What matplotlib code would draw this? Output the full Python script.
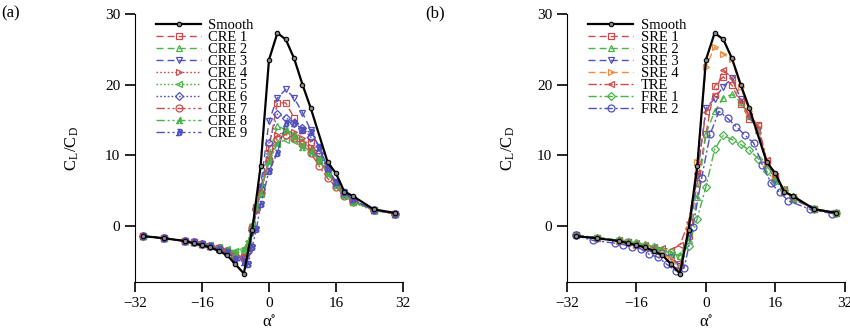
"""Lift-to-drag ratio vs angle of attack: (a) CRE cases, (b) SRE/TRE/FRE cases."""
import matplotlib
matplotlib.use("Agg")
import matplotlib.pyplot as plt

plt.rcParams["font.family"] = ["Liberation Serif", "DejaVu Serif"]
plt.rcParams["mathtext.fontset"] = "stix"

RED, GREEN, BLUE, ORANGE = "#cc4c4c", "#48b448", "#5050c0", "#f08a3c"

# ---- data ----
SMOOTH_A = [-30, -25, -20, -18, -16, -14, -12, -10, -8, -6, -4, -2, 0, 2, 4, 6, 8, 10,
            14, 16, 18, 20, 25, 30]
SMOOTH_Y = [-1.5, -1.8, -2.2, -2.5, -2.8, -3.1, -3.6, -4.2, -5.5, -6.8, -0.6, 8.4, 23.5,
            27.3, 26.4, 23.7, 20.0, 16.6, 9.0, 7.4, 4.8, 4.2, 2.3, 1.8]

CRE_A = [-30, -25, -20, -18, -16, -14, -12, -10, -8, -6, -5, -4, -3, -2, 0, 2, 4, 6, 8,
         10, 12, 14, 16, 18, 20, 25, 30]
CRE1 = [-1.5, -1.8, -2.2, -2.4, -2.6, -2.9, -3.2, -3.6, -4.2, -4.6, -3.5, -0.5, 2.5, 5.0,
        11.0, 17.4, 17.4, 15.3, 13.5, 11.8, 9.8, 7.8, 6.0, 4.6, 3.6, 2.2, 1.7]
CRE2 = [-1.5, -1.8, -2.2, -2.4, -2.6, -2.9, -3.1, -3.4, -3.8, -3.4, -2.5, 0.0, 2.5, 4.5,
        10.0, 14.1, 13.6, 13.0, 12.0, 10.8, 9.2, 7.5, 5.8, 4.5, 3.5, 2.2, 1.7]
CRE3 = [-1.5, -1.8, -2.2, -2.4, -2.6, -2.9, -3.3, -3.7, -4.6, -5.0, -4.0, -1.0, 2.0, 5.5,
        14.8, 18.1, 19.3, 18.1, 16.0, 13.5, 11.0, 8.0, 6.0, 4.6, 3.6, 2.2, 1.7]
CRE4 = [-1.5, -1.8, -2.2, -2.4, -2.6, -2.9, -3.2, -3.6, -4.2, -4.4, -3.3, -0.3, 2.6, 4.8,
        9.5, 12.8, 13.4, 13.2, 12.4, 11.2, 9.6, 7.6, 5.8, 4.4, 3.4, 2.2, 1.7]
CRE5 = [-1.5, -1.8, -2.2, -2.4, -2.6, -2.8, -3.0, -3.3, -3.6, -3.2, -2.2, 0.2, 2.8, 4.6,
        9.0, 11.6, 12.2, 12.0, 11.4, 10.4, 9.2, 7.4, 5.6, 4.2, 3.3, 2.1, 1.7]
CRE6 = [-1.5, -1.8, -2.2, -2.4, -2.6, -2.9, -3.2, -3.6, -4.4, -4.6, -3.6, -0.6, 2.4, 5.2,
        11.7, 15.8, 15.3, 14.6, 13.9, 12.5, 10.3, 8.0, 6.0, 4.6, 3.6, 2.2, 1.7]
CRE7 = [-1.5, -1.8, -2.2, -2.4, -2.6, -2.9, -3.2, -3.6, -4.3, -4.4, -3.4, -0.4, 2.4, 4.6,
        9.3, 12.3, 12.9, 12.4, 11.5, 10.3, 8.4, 6.7, 5.5, 4.2, 3.4, 2.2, 1.7]
CRE8 = [-1.5, -1.8, -2.2, -2.4, -2.6, -2.8, -3.1, -3.4, -3.9, -3.5, -2.4, 0.0, 2.6, 4.6,
        9.1, 11.7, 13.6, 12.7, 11.2, 10.5, 9.4, 7.4, 5.7, 4.4, 3.4, 2.2, 1.7]
CRE9 = [-1.5, -1.8, -2.2, -2.4, -2.6, -2.9, -3.3, -3.8, -4.8, -5.2, -5.5, -3.0, -0.5, 3.0,
        7.7, 10.3, 14.6, 14.6, 13.6, 13.2, 11.2, 8.2, 6.2, 4.8, 3.7, 2.2, 1.7]

R_A = [-30, -25, -20, -18, -16, -14, -12, -10, -8, -6, -4, -2, 0, 2, 4, 6, 8, 10, 12, 14,
       16, 18, 20, 25, 30]
SRE1 = [-1.4, -1.8, -2.2, -2.4, -2.7, -3.0, -3.4, -3.9, -4.6, -5.5, -1.5, 6.0, 13.0, 19.8,
        21.1, 19.9, 17.3, 15.1, 14.2, 9.1, 6.8, 5.0, 3.8, 2.4, 1.8]
SRE2 = [-1.4, -1.7, -2.1, -2.3, -2.5, -2.8, -3.1, -3.5, -4.0, -4.3, -2.0, 4.0, 13.0, 16.2,
        18.1, 18.6, 17.5, 15.5, 13.5, 9.0, 6.6, 5.0, 3.8, 2.3, 1.8]
SRE3 = [-1.4, -1.8, -2.2, -2.4, -2.7, -3.0, -3.4, -3.9, -4.5, -5.8, -1.0, 7.0, 16.6, 18.0,
        19.7, 20.9, 18.0, 15.5, 13.6, 8.8, 6.5, 4.8, 3.8, 2.3, 1.8]
SRE4 = [-1.4, -1.8, -2.2, -2.4, -2.7, -3.0, -3.5, -4.0, -4.8, -6.0, -0.5, 9.0, 22.5, 25.3,
        24.3, 23.6, 19.7, 16.2, 14.0, 8.8, 6.8, 5.0, 3.9, 2.3, 1.8]
TRE = [-1.4, -1.7, -2.1, -2.3, -2.5, -2.7, -3.0, -3.2, -3.4, -2.8, 0.5, 7.5, 16.1, 18.5,
       22.1, 20.9, 17.6, 15.6, 14.2, 9.3, 7.0, 5.2, 4.0, 2.4, 1.8]
FRE1 = [-1.4, -1.7, -2.1, -2.3, -2.5, -2.8, -3.1, -3.4, -3.8, -4.3, -2.9, 1.0, 5.5, 10.8,
        12.8, 12.2, 11.5, 10.7, 9.5, 7.7, 6.3, 5.0, 4.1, 2.4, 1.8]
FRE2_A = [-30, -26, -21, -19, -17, -15, -13, -11, -9, -7, -5, -3, -1, 1, 3, 5, 7, 9, 11,
          13, 15, 17, 19, 24, 29]
FRE2 = [-1.4, -2.1, -2.5, -2.7, -3.0, -3.3, -4.1, -4.5, -5.5, -6.4, -6.0, -0.2, 6.7, 13.0,
        16.2, 15.2, 14.0, 12.8, 11.7, 8.6, 6.0, 4.7, 3.5, 2.3, 1.7]

DASH = (0, (5, 3))
DOT = (0, (1.2, 1.5))
DASHDOT = (0, (6, 2, 1.5, 2))
DASHDOTDOT = (0, (6, 2, 1.5, 2, 1.5, 2))

LEFT = [
    ("CRE 1", CRE_A, CRE1, RED, DASH, "s"),
    ("CRE 2", CRE_A, CRE2, GREEN, DASH, "^"),
    ("CRE 3", CRE_A, CRE3, BLUE, DASH, "v"),
    ("CRE 4", CRE_A, CRE4, RED, DOT, ">"),
    ("CRE 5", CRE_A, CRE5, GREEN, DOT, "<"),
    ("CRE 6", CRE_A, CRE6, BLUE, DOT, "D"),
    ("CRE 7", CRE_A, CRE7, RED, DASHDOTDOT, "o"),
    ("CRE 8", CRE_A, CRE8, GREEN, DASHDOTDOT, "$A$"),
    ("CRE 9", CRE_A, CRE9, BLUE, DASHDOTDOT, "$B$"),
]
RIGHT = [
    ("SRE 1", R_A, SRE1, RED, DASH, "s"),
    ("SRE 2", R_A, SRE2, GREEN, DASH, "^"),
    ("SRE 3", R_A, SRE3, BLUE, DASH, "v"),
    ("SRE 4", R_A, SRE4, ORANGE, DASH, ">"),
    ("TRE", R_A, TRE, RED, DASHDOT, "<"),
    ("FRE 1", R_A, FRE1, GREEN, DASHDOT, "D"),
    ("FRE 2", FRE2_A, FRE2, BLUE, DASHDOT, "o"),
]


def _panel(ax, series, tag, x_tag, ylab_x):
    ax.plot(SMOOTH_A, SMOOTH_Y, "-", color="black", lw=1.6, marker="o", ms=3.2,
            mfc="#888888", mec="black", mew=0.8, label="Smooth", zorder=5)
    for label, a, y, c, ls, m in series:
        text_marker = m.startswith("$")
        ax.plot(a, y, color=c, ls=ls, lw=1.0, marker=m,
                ms=4.5 if text_marker else (4.0 if m == "D" else 5.0),
                mfc=c if text_marker else "none", mec=c, mew=0.9, label=label)
    ax.set_xlim(-32, 32)
    ax.set_ylim(-8, 30)
    ax.set_xticks([-32, -16, 0, 16, 32])
    ax.set_yticks([0, 10, 20, 30])
    for s in ("top", "right"):
        ax.spines[s].set_visible(False)
    ax.tick_params(direction="out", length=7, width=1.2, labelsize=11)
    ax.set_xlabel("α$^{\\circ}$", fontsize=12, labelpad=4)
    ax.set_ylabel("C$_\\mathregular{L}$/C$_\\mathregular{D}$", fontsize=12)
    ax.yaxis.set_label_coords(ylab_x, 0.5)
    ax.legend(loc="upper left", bbox_to_anchor=(0.04, 1.02), frameon=False,
              fontsize=10.5, handlelength=3.1, handletextpad=0.5, labelspacing=-0.08,
              borderpad=0.2)
    ax.figure.text(x_tag, 0.985, tag, fontsize=12, ha="left", va="top")


def render():
    fig = plt.figure(figsize=(8.5, 3.3), dpi=100)
    ax1 = fig.add_axes([0.1588, 0.1455, 0.3153, 0.8121])
    ax2 = fig.add_axes([0.667, 0.1455, 0.327, 0.8121])
    _panel(ax1, LEFT, "(a)", 0.002, -0.2)
    _panel(ax2, RIGHT, "(b)", 0.500, -0.18)
    fig.savefig("out.png", dpi=100)
    plt.close(fig)


if __name__ == "__main__":
    render()
